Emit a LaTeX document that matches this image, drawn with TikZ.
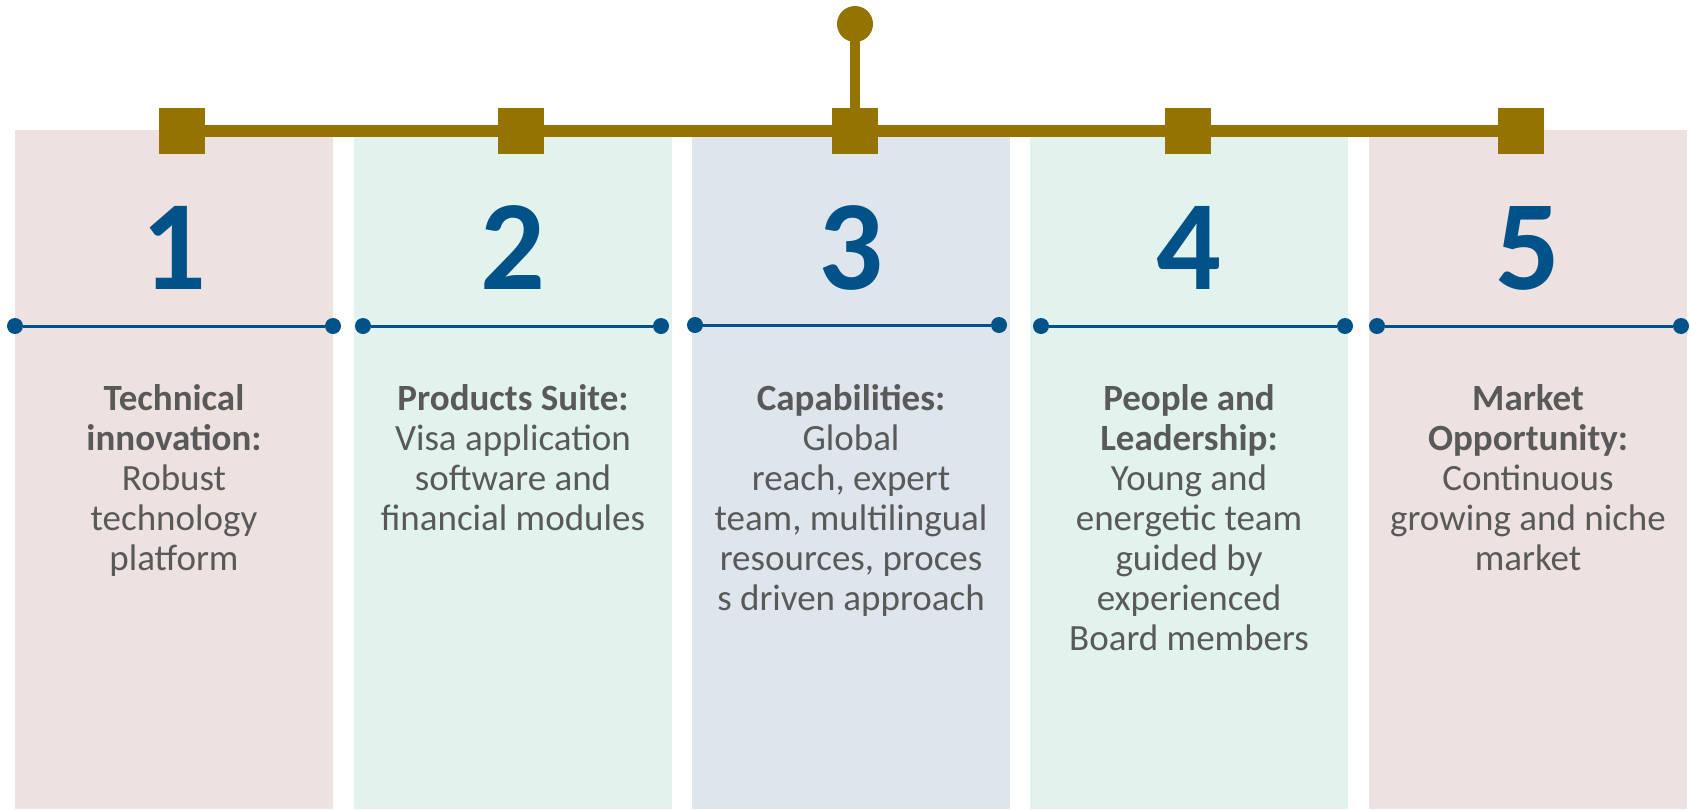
\documentclass[tikz,border=0pt]{standalone}
\usepackage{fontspec}
\setmainfont{Carlito}
\usepackage{tikz}
\usetikzlibrary{positioning}
\definecolor{gold}{RGB}{149,115,0}
\definecolor{numblue}{RGB}{0,82,136}
\definecolor{txtgrey}{RGB}{89,89,89}
\definecolor{colpink}{RGB}{237,226,223}
\definecolor{colmint}{RGB}{226,243,238}
\definecolor{colblue}{RGB}{223,229,237}
\tikzstyle{column}=[rectangle, inner sep=0pt, anchor=north west, minimum width=159pt, minimum height=339.5pt]
\tikzstyle{marker}=[rectangle, fill=gold, minimum size=23pt, inner sep=0pt]
\tikzstyle{knob}=[circle, fill=gold, minimum size=18pt, inner sep=0pt]
\tikzstyle{dot}=[circle, fill=numblue, minimum size=8pt, inner sep=0pt]
\tikzstyle{num}=[font=\fontsize{64}{64}\selectfont\bfseries, text=numblue, anchor=base, inner sep=0pt]
\tikzstyle{desc}=[align=center, text=txtgrey, font=\fontsize{18.5}{20}\selectfont, anchor=north, inner sep=0pt, execute at begin node=\strut]

\begin{document}
\begin{tikzpicture}[x=0.5pt, y=-0.5pt]
	\useasboundingbox (0,0) rectangle (1690,809);

	% columns
	\node[column, fill=colpink](col1) at (15,130){};
	\node[column, fill=colmint](col2) at (354,130){};
	\node[column, fill=colblue](col3) at (692,130){};
	\node[column, fill=colmint](col4) at (1030,130){};
	\node[column, fill=colpink](col5) at (1369,130){};

	% top bar
	\node[marker](sq1) at (182,131){};
	\node[marker](sq2) at (521,131){};
	\node[marker](sq3) at (855,131){};
	\node[marker](sq4) at (1188,131){};
	\node[marker](sq5) at (1521,131){};
	\node[knob](top) at (855,24){};
	\draw[gold, line width=6pt] (sq1.center) -- (sq5.center);
	\draw[gold, line width=5pt] (top.center) -- (sq3.center);
	\node[marker] at (sq1){};
	\node[marker] at (sq2){};
	\node[marker] at (sq3){};
	\node[marker] at (sq4){};
	\node[marker] at (sq5){};

	% numbers
	\node[num](num1) at (174,289){1};
	\node[num](num2) at (513,289){2};
	\node[num](num3) at (851,289){3};
	\node[num](num4) at (1189,289){4};
	\node[num](num5) at (1528,289){5};

	% separators
	\node[dot](dl1) at (15,326){};   \node[dot](dr1) at (333,326){};
	\node[dot](dl2) at (363,326){};  \node[dot](dr2) at (661,326){};
	\node[dot](dl3) at (695,325){};  \node[dot](dr3) at (999,325){};
	\node[dot](dl4) at (1041,326){}; \node[dot](dr4) at (1345,326){};
	\node[dot](dl5) at (1377,326){}; \node[dot](dr5) at (1681,326){};
	\draw[numblue, line width=1.5pt] (dl1) -- (dr1);
	\draw[numblue, line width=1.5pt] (dl2) -- (dr2);
	\draw[numblue, line width=1.5pt] (dl3) -- (dr3);
	\draw[numblue, line width=1.5pt] (dl4) -- (dr4);
	\draw[numblue, line width=1.5pt] (dl5) -- (dr5);

	% descriptions (strut height 14pt = 28 units above first baseline)
	\node[desc](txt1) at (174,384){\textbf{Technical}\\\textbf{innovation:}\\Robust\\technology\\platform};
	\node[desc](txt2) at (513,384){\textbf{Products Suite:}\\Visa application\\software and\\financial modules};
	\node[desc](txt3) at (851,384){\textbf{Capabilities:}\\Global\\reach, expert\\team, multilingual\\resources, proces\\s driven approach};
	\node[desc](txt4) at (1189,384){\textbf{People and}\\\textbf{Leadership:}\\Young and\\energetic team\\guided by\\experienced\\Board members};
	\node[desc](txt5) at (1528,384){\textbf{Market}\\\textbf{Opportunity:}\\Continuous\\growing and niche\\market};

\end{tikzpicture}
\end{document}
